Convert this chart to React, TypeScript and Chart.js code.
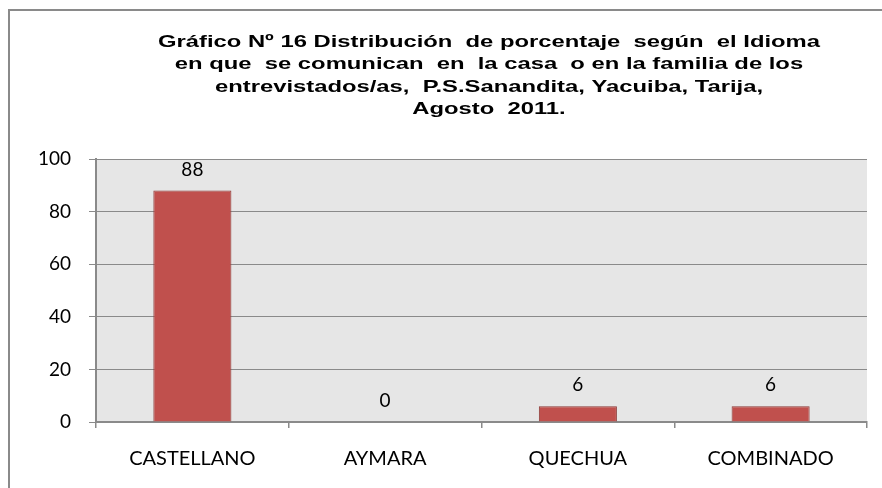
import React, { useEffect, useRef } from "react";
import { Chart, registerables } from "chart.js";

Chart.register(...registerables);

const categories = ["CASTELLANO", "AYMARA", "QUECHUA", "COMBINADO"];
const values = [88, 0, 6, 6];
const yMin = 0;
const yMax = 100;
const yStep = 20;
const titleLines = [
  "Gráfico Nº 16 Distribución  de porcentaje  según  el Idioma",
  "en que  se comunican  en  la casa  o en la familia de los",
  "entrevistados/as,  P.S.Sanandita, Yacuiba, Tarija,",
  "Agosto  2011.",
];

const AXIS_FONT = "Lato, 'Open Sans', sans-serif";

export default function App() {
  const ref = useRef<HTMLCanvasElement | null>(null);

  useEffect(() => {
    if (!ref.current) return;

    const backgroundPlugin = {
      id: "bgFrame",
      beforeDraw(chart: any) {
        const { ctx, chartArea } = chart;
        ctx.save();
        ctx.fillStyle = "#ffffff";
        ctx.fillRect(0, 0, chart.width, chart.height);
        ctx.strokeStyle = "#8a8a8a";
        ctx.lineWidth = 2;
        ctx.beginPath();
        ctx.moveTo(9, chart.height);
        ctx.lineTo(9, 10);
        ctx.lineTo(chart.width, 10);
        ctx.stroke();
        ctx.fillStyle = "#e6e6e6";
        ctx.fillRect(chartArea.left, chartArea.top, chartArea.right - chartArea.left, chartArea.bottom - chartArea.top);
        ctx.restore();
      },
    };

    const titlePlugin = {
      id: "stretchedTitle",
      afterDraw(chart: any) {
        const { ctx } = chart;
        ctx.save();
        ctx.fillStyle = "#000000";
        ctx.font = "bold 17px 'Liberation Sans', Arial, sans-serif";
        ctx.textAlign = "center";
        ctx.textBaseline = "middle";
        const cx = 489;
        titleLines.forEach((line, i) => {
          ctx.save();
          ctx.translate(cx, 42 + i * 22.6);
          ctx.scale(1.4, 1);
          ctx.fillText(line, 0, 0);
          ctx.restore();
        });
        ctx.restore();
      },
    };

    const valueLabels = {
      id: "valueLabels",
      afterDatasetsDraw(chart: any) {
        const { ctx } = chart;
        const meta = chart.getDatasetMeta(0);
        ctx.save();
        ctx.fillStyle = "#000000";
        ctx.font = `19px ${AXIS_FONT}`;
        ctx.textAlign = "center";
        ctx.textBaseline = "middle";
        meta.data.forEach((bar: any, i: number) => {
          ctx.fillText(String(values[i]), bar.x, bar.y - 21);
        });
        ctx.restore();
      },
    };

    const chart = new Chart(ref.current, {
      type: "bar",
      data: {
        labels: categories,
        datasets: [
          {
            data: values,
            backgroundColor: "#c0504d",
            borderColor: "#8c3a37",
            borderWidth: 1,
            barPercentage: 0.405,
            categoryPercentage: 1,
          },
        ],
      },
      options: {
        responsive: false,
        animation: false,
        devicePixelRatio: 1,
        layout: { padding: { top: 159, right: 15, left: 0, bottom: 0 } },
        plugins: {
          legend: { display: false },
          title: { display: false },
          tooltip: { enabled: false },
        },
        scales: {
          x: {
            offset: true,
            grid: {
              offset: true,
              drawOnChartArea: false,
              drawTicks: true,
              tickLength: 6,
              color: "#8a8a8a",
              lineWidth: 1.5,
            },
            border: { display: true, color: "#8a8a8a", width: 2 },
            ticks: {
              color: "#000000",
              font: { family: AXIS_FONT, size: 20 },
              padding: 19,
              maxRotation: 0,
            },
            afterFit(scale: any) {
              scale.height = 66;
            },
          },
          y: {
            min: yMin,
            max: yMax,
            ticks: {
              stepSize: yStep,
              color: "#000000",
              font: { family: AXIS_FONT, size: 19 },
              padding: 18,
            },
            grid: {
              color: "#8a8a8a",
              lineWidth: 1,
              drawTicks: true,
              tickLength: 7,
            },
            border: { display: true, color: "#8a8a8a", width: 2 },
            afterFit(scale: any) {
              scale.width = 96;
            },
          },
        },
      },
      plugins: [backgroundPlugin, titlePlugin, valueLabels],
    });

    return () => chart.destroy();
  }, []);

  return (
    <div style={{ position: "absolute", left: 0, top: 0, width: 882, height: 488 }}>
      <canvas ref={ref} width={882} height={488} />
    </div>
  );
}
